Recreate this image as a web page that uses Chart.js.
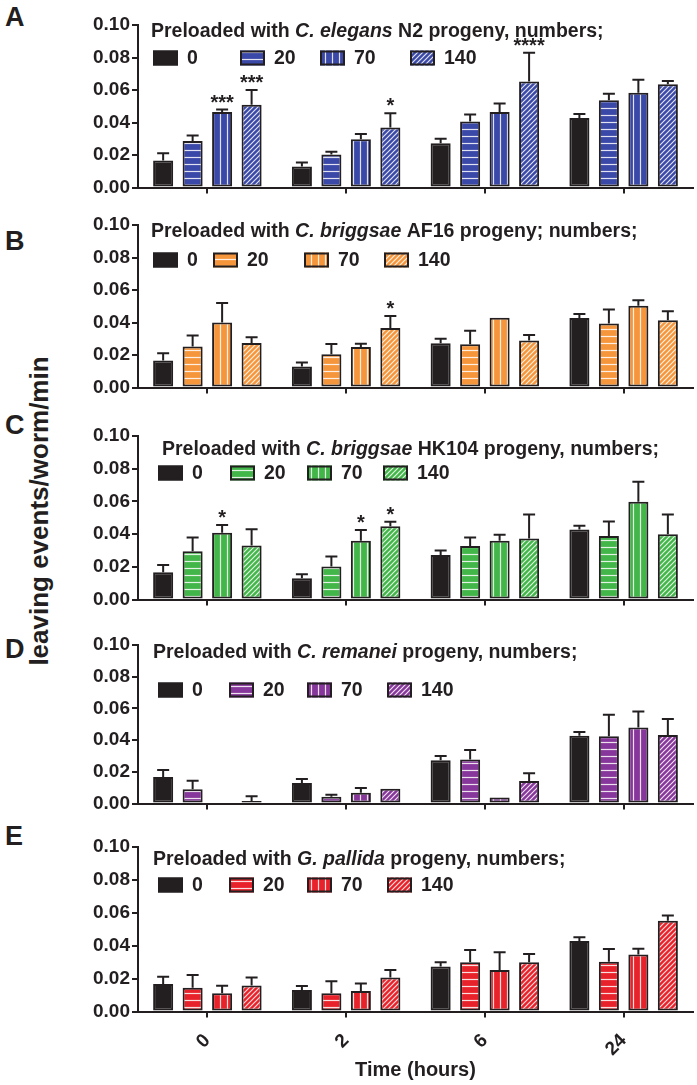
<!DOCTYPE html>
<html>
<head>
<meta charset="utf-8">
<script src="https://cdn.jsdelivr.net/npm/chart.js@4.4.0/dist/chart.umd.min.js"></script>
<style>
  body { margin: 0; background: #fff; width: 697px; height: 1085px; position: relative; overflow: hidden;
         font-family: "Liberation Sans", Arial, sans-serif; color: #231f20; }
  canvas { position: absolute; left: 0; }
  .letter { position: absolute; left: 5px; font-weight: bold; font-size: 27px; line-height: 27px; }
  #ytitle { position: absolute; left: 39px; top: 511px; white-space: nowrap; font-weight: bold; font-size: 26px;
            line-height: 26px; transform: translate(-50%, -50%) rotate(-90deg); }
</style>
</head>
<body>
<div class="letter" style="top:4px">A</div>
<div class="letter" style="top:228px">B</div>
<div class="letter" style="top:412px">C</div>
<div class="letter" style="top:636px">D</div>
<div class="letter" style="top:823px">E</div>
<div id="ytitle">leaving events/worm/min</div>

<script>
// categories / series
const timeLabels = ['0', '2', '6', '24'];
const seriesLabels = ['0', '20', '70', '140'];

// control (0 progeny), same in every panel
const control = [0.0167, 0.0130, 0.0273, 0.0428];
const controlErr = [0.0045, 0.0025, 0.0027, 0.0024];

// A: C. elegans N2
const elegans20 = [0.0286, 0.0203, 0.0406, 0.0537];
const elegans20Err = [0.0034, 0.0017, 0.0044, 0.0040];
const elegans70 = [0.0465, 0.0298, 0.0465, 0.0583];
const elegans70Err = [0.0015, 0.0032, 0.0052, 0.0081];
const elegans140 = [0.0510, 0.0370, 0.0652, 0.0636];
const elegans140Err = [0.0090, 0.0087, 0.0178, 0.0020];
const elegans70Stars = ['***', '', '', ''];
const elegans140Stars = ['***', '*', '****', ''];

// B: C. briggsae AF16
const af16_20 = [0.0252, 0.0205, 0.0266, 0.0394];
const af16_20Err = [0.0068, 0.0063, 0.0084, 0.0086];
const af16_70 = [0.0400, 0.0250, 0.0430, 0.0503];
const af16_70Err = [0.0120, 0.0020, 0, 0.0034];
const af16_140 = [0.0274, 0.0366, 0.0290, 0.0414];
const af16_140Err = [0.0036, 0.0074, 0.0034, 0.0056];
const af16_140Stars = ['', '*', '', ''];

// C: C. briggsae HK104
const hk104_20 = [0.0296, 0.0202, 0.0328, 0.0388];
const hk104_20Err = [0.0084, 0.0062, 0.0052, 0.0090];
const hk104_70 = [0.0408, 0.0360, 0.0360, 0.0598];
const hk104_70Err = [0.0048, 0.0066, 0.0036, 0.0122];
const hk104_140 = [0.0330, 0.0448, 0.0374, 0.0400];
const hk104_140Err = [0.0100, 0.0028, 0.0146, 0.0120];
const hk104_70Stars = ['*', '*', '', ''];
const hk104_140Stars = ['', '*', '', ''];

// D: C. remanei
const remanei20 = [0.0090, 0.0043, 0.0278, 0.0425];
const remanei20Err = [0.0054, 0.0013, 0.0060, 0.0135];
const remanei70 = [0, 0.0068, 0.0039, 0.0480];
const remanei70Err = [0, 0.0031, 0, 0.0100];
const remanei140 = [0.0016, 0.0093, 0.0142, 0.0433];
const remanei140Err = [0.0031, 0, 0.0050, 0.0101];

// E: G. pallida
const pallida20 = [0.0145, 0.0111, 0.0300, 0.0303];
const pallida20Err = [0.0077, 0.0073, 0.0074, 0.0077];
const pallida70 = [0.0111, 0.0125, 0.0253, 0.0347];
const pallida70Err = [0.0045, 0.0045, 0.0107, 0.0035];
const pallida140 = [0.0158, 0.0206, 0.0300, 0.0552];
const pallida140Err = [0.0048, 0.0047, 0.0050, 0.0032];

const yTicks = [0, 0.02, 0.04, 0.06, 0.08, 0.10];

const INK = '#231f20';
const FONT = '"Liberation Sans", Arial, sans-serif';
const PADT = 25;

function makePattern(color, kind) {
    var c = document.createElement('canvas');
    var s = kind === 'd' ? 5 : 7;
    c.width = s; c.height = s;
    var g = c.getContext('2d');
    g.fillStyle = color;
    g.fillRect(0, 0, s, s);
    g.strokeStyle = 'rgba(255,255,255,0.85)';
    g.lineWidth = 1.2;
    g.beginPath();
    if (kind === 'h') {
        g.moveTo(0, 3.5); g.lineTo(s, 3.5);
    } else if (kind === 'v') {
        g.moveTo(3.5, 0); g.lineTo(3.5, s);
    } else {
        g.moveTo(-1, s + 1); g.lineTo(s + 1, -1);
        g.moveTo(-1, 1); g.lineTo(1, -1);
        g.moveTo(s - 1, s + 1); g.lineTo(s + 1, s - 1);
    }
    g.stroke();
    return g.createPattern(c, 'repeat');
}

// layout of each panel (page pixels)
const panels = [
    { top: 25, bottom: 190.5, color: '#3a48a8',
      title: [['Preloaded with ', false], ['C. elegans', true], [' N2 progeny, numbers;', false]],
      titleX: 151, titleDy: 7, legendX: [153, 240, 320, 410], legendDy: 33,
      values: [control, elegans20, elegans70, elegans140],
      errs: [controlErr, elegans20Err, elegans70Err, elegans140Err],
      stars: [null, null, elegans70Stars, elegans140Stars] },
    { top: 225, bottom: 390.5, color: '#f6963c',
      title: [['Preloaded with ', false], ['C. briggsae', true], [' AF16 progeny; numbers;', false]],
      titleX: 151, titleDy: 7, legendX: [153, 213, 304, 384], legendDy: 35,
      values: [control, af16_20, af16_70, af16_140],
      errs: [controlErr, af16_20Err, af16_70Err, af16_140Err],
      stars: [null, null, null, af16_140Stars] },
    { top: 436, bottom: 602.5, color: '#42b649',
      title: [['Preloaded with ', false], ['C. briggsae', true], [' HK104 progeny, numbers;', false]],
      titleX: 162, titleDy: 14, legendX: [158, 230, 307, 383], legendDy: 37,
      values: [control, hk104_20, hk104_70, hk104_140],
      errs: [controlErr, hk104_20Err, hk104_70Err, hk104_140Err],
      stars: [null, null, hk104_70Stars, hk104_140Stars] },
    { top: 645, bottom: 806.5, color: '#87379b',
      title: [['Preloaded with ', false], ['C. remanei', true], [' progeny, numbers;', false]],
      titleX: 153, titleDy: 8, legendX: [158, 229, 307, 387], legendDy: 45,
      values: [control, remanei20, remanei70, remanei140],
      errs: [controlErr, remanei20Err, remanei70Err, remanei140Err],
      stars: [null, null, null, null] },
    { top: 847, bottom: 1011.5, color: '#e8222b', last: true,
      title: [['Preloaded with ', false], ['G. pallida', true], [' progeny, numbers;', false]],
      titleX: 153, titleDy: 13, legendX: [158, 229, 307, 387], legendDy: 38,
      values: [control, pallida20, pallida70, pallida140],
      errs: [controlErr, pallida20Err, pallida70Err, pallida140Err],
      stars: [null, null, null, null] }
];

// error bars, stars, title and legend drawn on top of the bars
const panelPlugin = {
    id: 'panel',
    afterDatasetsDraw: function (chart, args, opts) {
        var ctx = chart.ctx;
        var yScale = chart.scales.y;
        ctx.save();
        ctx.strokeStyle = INK;
        ctx.fillStyle = INK;
        ctx.lineWidth = 2;
        chart.data.datasets.forEach(function (ds, i) {
            var meta = chart.getDatasetMeta(i);
            meta.data.forEach(function (bar, j) {
                var e = opts.errs[i][j];
                var top = yScale.getPixelForValue(ds.data[j] + e);
                if (e > 0) {
                    ctx.beginPath();
                    ctx.moveTo(bar.x, bar.y);
                    ctx.lineTo(bar.x, top);
                    ctx.moveTo(bar.x - 6, top);
                    ctx.lineTo(bar.x + 6, top);
                    ctx.stroke();
                }
                var st = opts.stars[i];
                if (st && st[j]) {
                    ctx.font = 'bold 20px ' + FONT;
                    ctx.textAlign = 'center';
                    ctx.textBaseline = 'alphabetic';
                    ctx.fillText(st[j], bar.x, top - 1);
                }
            });
        });

        // title with italic species name
        var area = chart.chartArea;
        var x = opts.titleX;
        var y = area.top + opts.titleDy;
        ctx.textAlign = 'left';
        ctx.textBaseline = 'middle';
        opts.title.forEach(function (seg) {
            ctx.font = (seg[1] ? 'italic ' : '') + 'bold 19.5px ' + FONT;
            ctx.fillText(seg[0], x, y);
            x += ctx.measureText(seg[0]).width;
        });

        // legend
        var ly = area.top + opts.legendDy;
        ctx.font = 'bold 19.5px ' + FONT;
        chart.data.datasets.forEach(function (ds, i) {
            var bx = opts.legendX[i];
            ctx.fillStyle = ds.backgroundColor;
            ctx.fillRect(bx, ly - 7.5, 25, 15);
            ctx.strokeStyle = INK;
            ctx.lineWidth = 2;
            ctx.strokeRect(bx + 1, ly - 6.5, 23, 13);
            ctx.fillStyle = INK;
            ctx.fillText(ds.label, bx + 34, ly + 1);
        });
        ctx.restore();
    }
};

panels.forEach(function (p) {
    var axisH = p.last ? 73.5 : 10;
    var h = Math.round(PADT + (p.bottom - p.top) + axisH);
    var cv = document.createElement('canvas');
    cv.width = 697; cv.height = h;
    cv.style.width = '697px'; cv.style.height = h + 'px';
    cv.style.top = (p.top - PADT) + 'px';
    document.body.appendChild(cv);

    var fills = [INK, makePattern(p.color, 'h'), makePattern(p.color, 'v'), makePattern(p.color, 'd')];

    new Chart(cv, {
        type: 'bar',
        data: {
            labels: timeLabels,
            datasets: seriesLabels.map(function (lab, i) {
                return {
                    label: lab,
                    data: p.values[i],
                    backgroundColor: fills[i],
                    borderColor: INK,
                    borderWidth: 2,
                    borderSkipped: false,
                    categoryPercentage: 0.85,
                    barPercentage: 0.68
                };
            })
        },
        options: {
            responsive: false,
            animation: false,
            devicePixelRatio: 1,
            layout: { padding: { top: PADT, right: 4, left: 0, bottom: 0 } },
            plugins: {
                legend: { display: false },
                tooltip: { enabled: false },
                panel: { errs: p.errs, stars: p.stars, title: p.title, titleX: p.titleX,
                         titleDy: p.titleDy, legendX: p.legendX, legendDy: p.legendDy }
            },
            scales: {
                x: {
                    offset: true,
                    grid: { drawOnChartArea: false, offset: false, tickLength: 6, lineWidth: 2, color: INK },
                    border: { display: true, width: 2, color: INK },
                    ticks: { display: !!p.last, minRotation: 45, maxRotation: 45, padding: 12, color: INK,
                             font: { family: FONT, size: 19, weight: 'bold' } },
                    title: { display: !!p.last, text: 'Time (hours)', color: INK,
                             font: { family: FONT, size: 20, weight: 'bold' }, padding: { top: 0, bottom: 3 } },
                    afterFit: function (s) { s.height = axisH; }
                },
                y: {
                    min: 0, max: 0.1,
                    afterBuildTicks: function (s) { s.ticks = yTicks.map(function (v) { return { value: v }; }); },
                    grid: { drawOnChartArea: false, tickLength: 6, lineWidth: 2, color: INK },
                    border: { display: true, width: 2, color: INK },
                    ticks: { padding: 2, color: INK, font: { family: FONT, size: 19, weight: 'bold' },
                             callback: function (v) { return v.toFixed(2); } },
                    afterFit: function (s) { s.width = 138; }
                }
            }
        },
        plugins: [panelPlugin]
    });
});
</script>
</body>
</html>
